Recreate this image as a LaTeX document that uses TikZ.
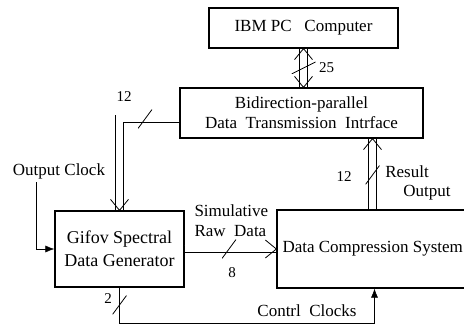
\documentclass[tikz,border=0pt]{standalone}
\usepackage{fontspec}
\setmainfont{Liberation Serif}
\usetikzlibrary{arrows.meta,decorations.markings}

\tikzset{
  block/.style={draw, line width=1.3pt, inner sep=0pt, align=center},
  bus/.style={postaction={draw, double, double distance=7pt, line width=0.6pt}},
  headend/.style={postaction={decorate, decoration={markings,
    mark=at position 1 with {\draw[line width=0.8pt] (-11pt,9pt) -- (0pt,0pt) -- (-11pt,-9pt);}}}},
  headstart/.style={postaction={decorate, decoration={markings,
    mark=at position 0 with {\draw[line width=0.8pt] (11pt,9pt) -- (0pt,0pt) -- (11pt,-9pt);}}}},
  clk/.style={line width=0.6pt, -{Latex[length=9pt,width=7pt]}},
  tick/.style={minimum width=14pt, minimum height=19pt, inner sep=0pt,
    path picture={\draw[line width=0.8pt] (path picture bounding box.south west)
      -- (path picture bounding box.north east);}},
  num/.style={font=\fontsize{15}{17}\selectfont},
}

\begin{document}
\begin{tikzpicture}[x=1pt,y=-1pt,font=\fontsize{17}{20}\selectfont]
\clip (0,0) rectangle (464,331);

% the four units
\node[block, minimum width=189pt, minimum height=40pt] (ibm) at (303.5,28) {IBM\ PC\ \ \ Computer};
\node[block, minimum width=243pt, minimum height=50pt] (iface) at (301.5,113)
  {Bidirection-parallel\\Data\ \ Transmission\ \ Intrface};
\node[block, minimum width=129pt, minimum height=76pt, font=\fontsize{18}{20}\selectfont] (gen) at (119.5,249)
  {Gifov Spectral\\[3pt]Data Generator};
\node[block, minimum width=195pt, minimum height=78pt] (dcs) at (374.5,249) {};
\node[anchor=west] (dcstext) at (279,249) {Data Compression System};

% buses
\path[bus, headstart, headend] (ibm.south) -- (ibm.south |- iface.north);
\path[bus, headend] ([yshift=-6pt]iface.west) -| (gen.north);
\path[bus, headend] (gen.east) -- (dcs.west);
\path[bus, headend] ([xshift=-2pt]dcs.north) -- ([xshift=-2pt]dcs.north |- iface.south);

% clock lines
\node (oclk) at (59,171) {Output\ Clock};
\draw[clk] ([xshift=-23pt]oclk.south) |- (gen.west);
\draw[clk] (gen.south) -- ++(0,36) -| (dcs.south);
\node (cclk) at (307,311) {Contrl\ \ Clocks};

% bus widths
\node[tick, minimum width=24pt, minimum height=12pt] (t25) at (303.5,68) {};
\node[num, right] (n25) at (t25.east) {25};
\node[tick] (t12a) at (145,119) {};
\node[num] (n12a) at (124,97) {12};
\node[tick] (t8) at (229,249) {};
\node[num] (n8) at (232,273) {8};
\node[tick] (t12b) at (372.5,175) {};
\node[num] (n12b) at (344,177) {12};
\node[tick] (t2) at (119.5,305) {};
\node[num] (n2) at (108,299) {2};

% signal names
\node[anchor=west, align=left] (sim) at (191,221) {Simulative\\Raw\ \ Data};
\node (res) at (407,172) {Result};
\node (out) at (427,193) {Output};
\end{tikzpicture}
\end{document}
